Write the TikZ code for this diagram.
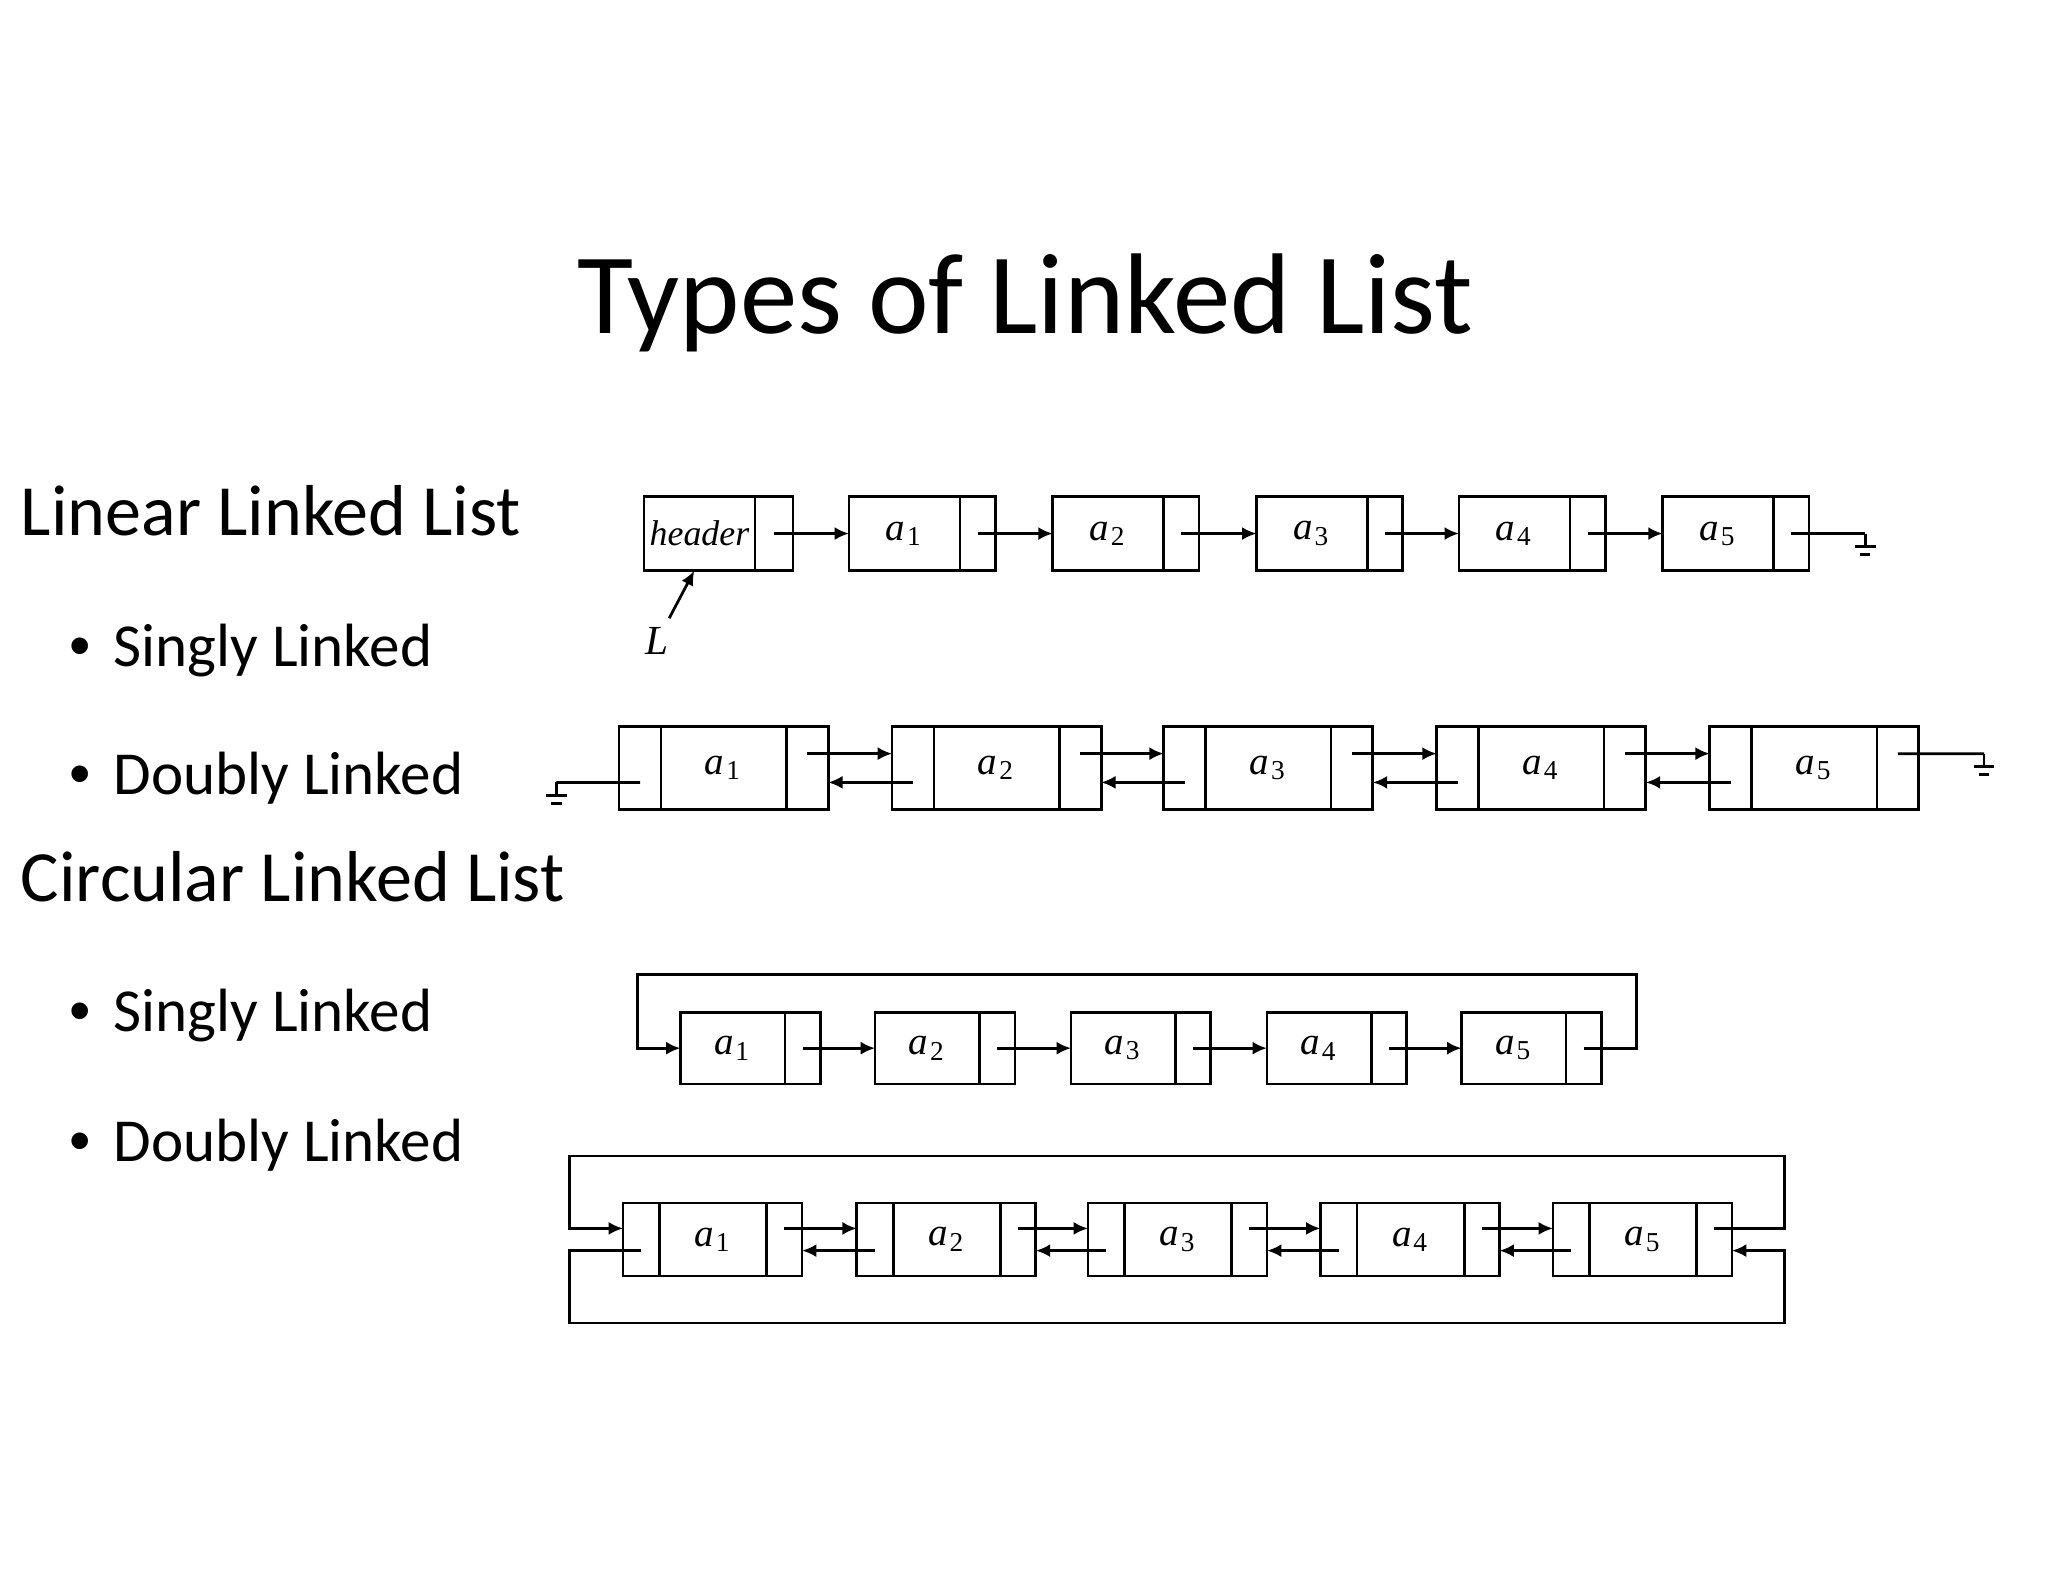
\documentclass[tikz,border=0pt]{standalone}
\usepackage{fontspec}
\setmainfont{Carlito}
\newfontfamily\listfont{Liberation Serif}
\newfontfamily\bulletfont{Liberation Sans}
\usetikzlibrary{positioning,arrows.meta}

% element label a_i
\newcommand{\listelem}[1]{{\listfont\itshape a\kern.4pt\textsubscript{\upshape #1}}}
% bullet of a list item
\newcommand{\itembullet}{\makebox[3.7mm][l]{\kern.3mm{\bulletfont\textbullet}}}
% ground symbol below a free end
\newcommand{\groundat}[1]{\draw (#1) -- ++(0,10) ++(-8,0) -- ++(16,0) ++(-12,6) -- ++(8,0);}

\tikzset{
  cell/.style={draw, inner sep=0pt, outer sep=0pt, font=\listfont\fontsize{8.5}{10}\selectfont},
  link/.style={-{Latex[length=1.1mm,width=1mm]}},
  heading/.style={inner sep=0pt, anchor=base west, font=\fontsize{15.7}{19}\selectfont},
  item/.style={inner sep=0pt, anchor=base west, font=\fontsize{13.3}{16}\selectfont}
}

\begin{document}
\begin{tikzpicture}[x=0.01cm, y=-0.01cm, line width=0.6pt]
  \useasboundingbox (0,0) rectangle (1568,1211);

  % Title and text
  \node[inner sep=0pt, anchor=base, font=\fontsize{25}{30}\selectfont] (title) at (785,255) {Types of Linked List};
  \node[heading] (linear) at (15,410) {Linear Linked List};
  \node[item] (linsingly) at (49,510) {\itembullet Singly Linked};
  \node[item] (lindoubly) at (49,608) {\itembullet Doubly Linked};
  \node[heading] (circular) at (15,690) {Circular Linked List};
  \node[item] (cirsingly) at (49,790) {\itembullet Singly Linked};
  \node[item] (cirdoubly) at (49,889) {\itembullet Doubly Linked};

  % Linear singly linked list
  \node[cell, minimum width=8.5mm, minimum height=5.7mm, anchor=west, font=\listfont\fontsize{7.8}{9}\selectfont] (hd) at (493,408.5) {\itshape header};
  \node[cell, minimum width=2.9mm, minimum height=5.7mm, right=0pt of hd] (hp) {};
  \foreach \i/\x in {1/650,2/806,3/962,4/1117,5/1273}{
    \node[cell, minimum width=8.5mm, minimum height=5.7mm, anchor=west] (sd\i) at (\x,408.5) {\listelem{\i}};
    \node[cell, minimum width=2.7mm, minimum height=5.7mm, right=0pt of sd\i] (sp\i) {};
  }
  \draw[link] (hp.center) -- (sd1.west);
  \foreach \i/\j in {1/2,2/3,3/4,4/5}
    \draw[link] (sp\i.center) -- (sd\j.west);
  \coordinate (g1) at (1428,408.5);
  \draw (sp5.center) -- (g1);
  \groundat{g1}
  \node[inner sep=0pt, font=\listfont\itshape\fontsize{9}{10}\selectfont] (L) at (503,491) {L};
  \draw[link, shorten <=2pt] (L) -- ([xshift=-0.4mm]hd.south);

  % Linear doubly linked list
  \foreach \i/\x in {1/474,2/683,3/891,4/1100,5/1309}{
    \node[cell, minimum width=3.2mm, minimum height=6.4mm, anchor=west] (dl\i) at (\x,588) {};
    \node[cell, minimum width=9.6mm, minimum height=6.4mm, right=0pt of dl\i] (dd\i) {\listelem{\i}};
    \node[cell, minimum width=3.2mm, minimum height=6.4mm, right=0pt of dd\i] (dr\i) {};
  }
  \foreach \i/\j in {1/2,2/3,3/4,4/5}{
    \draw[link] ([yshift=1.1mm]dr\i.center) -- ([yshift=1.1mm]dl\j.west);
    \draw[link] ([yshift=-1.1mm]dl\j.center) -- ([yshift=-1.1mm]dr\i.east);
  }
  \coordinate (g2) at (426,599);
  \draw ([yshift=-1.1mm]dl1.center) -- (g2);
  \groundat{g2}
  \coordinate (g3) at (1519,577);
  \draw ([yshift=1.1mm]dr5.center) -- (g3);
  \groundat{g3}

  % Circular singly linked list
  \foreach \i/\x in {1/521,2/670,3/820,4/970,5/1119}{
    \node[cell, minimum width=8mm, minimum height=5.5mm, anchor=west] (cd\i) at (\x,802.5) {\listelem{\i}};
    \node[cell, minimum width=2.7mm, minimum height=5.5mm, right=0pt of cd\i] (cp\i) {};
  }
  \foreach \i/\j in {1/2,2/3,3/4,4/5}
    \draw[link] (cp\i.center) -- (cd\j.west);
  \coordinate (cr) at (1253,746);
  \coordinate (cl) at (488,746);
  \draw[link] (cp5.center) -| (cr) -- (cl) |- (cd1.west);

  % Circular doubly linked list
  \foreach \i/\x in {1/477,2/656,3/833,4/1011,5/1189}{
    \node[cell, minimum width=2.8mm, minimum height=5.6mm, anchor=west] (el\i) at (\x,949) {};
    \node[cell, minimum width=8.2mm, minimum height=5.6mm, right=0pt of el\i] (ed\i) {\listelem{\i}};
    \node[cell, minimum width=2.7mm, minimum height=5.6mm, right=0pt of ed\i] (er\i) {};
  }
  \foreach \i/\j in {1/2,2/3,3/4,4/5}{
    \draw[link] ([yshift=0.85mm]er\i.center) -- ([yshift=0.85mm]el\j.west);
    \draw[link] ([yshift=-0.85mm]el\j.center) -- ([yshift=-0.85mm]er\i.east);
  }
  \coordinate (tr) at (1366,885);
  \coordinate (tl) at (436,885);
  \coordinate (bl) at (436,1013);
  \coordinate (br) at (1366,1013);
  \draw[link] ([yshift=0.85mm]er5.center) -| (tr) -- (tl) |- ([yshift=0.85mm]el1.west);
  \draw[link] ([yshift=-0.85mm]el1.center) -| (bl) -- (br) |- ([yshift=-0.85mm]er5.east);
\end{tikzpicture}
\end{document}
